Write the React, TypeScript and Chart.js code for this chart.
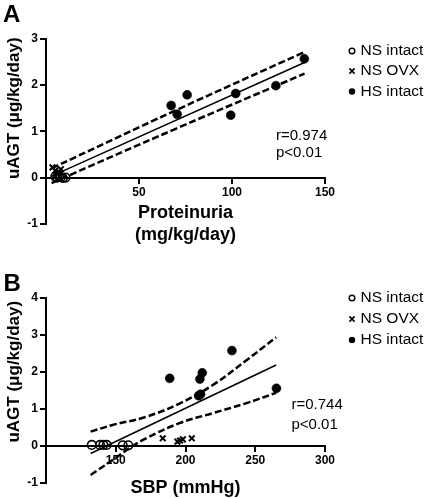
import React, { useEffect, useRef } from 'react';
import { Chart, registerables } from 'chart.js';

Chart.register(...registerables);

const FONT = '"Liberation Sans", Arial, Helvetica, sans-serif';

// ---------- Panel A: uAGT vs Proteinuria ----------
const nsIntactA = [
  { x: 5, y: 0.02 }, { x: 6, y: 0.0 }, { x: 7, y: 0.03 },
  { x: 8, y: 0.01 }, { x: 9, y: -0.01 }, { x: 10.5, y: 0.0 },
];
const nsOvxA = [
  { x: 3.5, y: 0.22 }, { x: 5, y: 0.15 }, { x: 6, y: 0.08 },
  { x: 7, y: 0.12 }, { x: 8, y: 0.18 },
];
const hsIntactA = [
  { x: 67.3, y: 1.56 }, { x: 70.5, y: 1.37 }, { x: 75.9, y: 1.79 },
  { x: 99.3, y: 1.35 }, { x: 102, y: 1.82 }, { x: 123.6, y: 1.99 },
  { x: 138.9, y: 2.57 },
];
const fitA = [{ x: 3, y: 0.03 }, { x: 139, y: 2.49 }];
const upperA = [{ x: 3, y: 0.2 }, { x: 70, y: 1.46 }, { x: 139, y: 2.72 }];
const lowerA = [{ x: 3, y: -0.12 }, { x: 70, y: 1.06 }, { x: 139, y: 2.25 }];
const xTicksA = { min: 0, max: 150, step: 50, hidden: 0 };
const yTicksA = { min: -1, max: 3, step: 1 };
const statsA = ['r=0.974', 'p<0.01'];
const xTitleA = ['Proteinuria', '(mg/kg/day)'];

// ---------- Panel B: uAGT vs SBP ----------
const nsIntactB = [
  { x: 132.8, y: 0.02 }, { x: 138.7, y: 0.02 }, { x: 141.1, y: 0.02 },
  { x: 143.5, y: 0.02 }, { x: 155, y: 0.01 }, { x: 159, y: 0.01 },
];
const nsOvxB = [
  { x: 183.7, y: 0.2 }, { x: 194.2, y: 0.11 }, { x: 196.1, y: 0.14 },
  { x: 198.1, y: 0.17 }, { x: 204.5, y: 0.2 },
];
const hsIntactB = [
  { x: 188.7, y: 1.82 }, { x: 210.3, y: 1.8 }, { x: 212, y: 1.97 },
  { x: 209.4, y: 1.35 }, { x: 210.8, y: 1.39 }, { x: 233.3, y: 2.57 },
  { x: 265.2, y: 1.55 },
];
const fitB = [{ x: 132, y: -0.21 }, { x: 265, y: 2.18 }];
const upperB = [
  { x: 132, y: 0.38 }, { x: 147.7, y: 0.56 }, { x: 171.7, y: 0.78 },
  { x: 195.7, y: 1.14 }, { x: 219.6, y: 1.64 }, { x: 243.7, y: 2.31 },
  { x: 265, y: 2.93 },
];
const lowerB = [
  { x: 132, y: -0.79 }, { x: 147.7, y: -0.39 }, { x: 159.7, y: -0.07 },
  { x: 171.7, y: 0.2 }, { x: 195.7, y: 0.61 }, { x: 219.6, y: 0.88 },
  { x: 243.7, y: 1.15 }, { x: 265, y: 1.43 },
];
const xTicksB = { min: 100, max: 300, step: 50, hidden: 100 };
const yTicksB = { min: -1, max: 4, step: 1 };
const statsB = ['r=0.744', 'p<0.01'];
const xTitleB = 'SBP (mmHg)';

const yTitle = 'uAGT (μg/kg/day)';
const legendLabels = ['NS intact', 'NS OVX', 'HS intact'];

type Pt = { x: number; y: number };

interface PanelCfg {
  letter: string;
  letterPos: [number, number];
  nsIntact: Pt[];
  nsOvx: Pt[];
  hsIntact: Pt[];
  fit: Pt[];
  upper: Pt[];
  lower: Pt[];
  xTicks: { min: number; max: number; step: number; hidden: number };
  yTicks: { min: number; max: number; step: number };
  xTitle: string | string[];
  stats: string[];
  statsX: number;
  statsYs: number[];
  legendX: number;
  legendYs: number[];
  padding: { top: number; bottom: number };
  xHeight: number;
}

function overlayPlugin(cfg: PanelCfg) {
  return {
    id: 'overlay' + cfg.letter,
    afterDraw(chart: any) {
      const ctx = chart.ctx as CanvasRenderingContext2D;
      ctx.save();
      ctx.fillStyle = '#000';
      ctx.strokeStyle = '#000';
      ctx.textAlign = 'left';
      ctx.textBaseline = 'alphabetic';
      ctx.font = `bold 24px ${FONT}`;
      ctx.fillText(cfg.letter, cfg.letterPos[0], cfg.letterPos[1]);

      // y-axis title, centred on the 0..max part of the axis
      const ys = chart.scales.y;
      const yc = (ys.getPixelForValue(0) + ys.getPixelForValue(cfg.yTicks.max)) / 2;
      ctx.save();
      ctx.translate(19, yc);
      ctx.rotate(-Math.PI / 2);
      ctx.textAlign = 'center';
      ctx.textBaseline = 'alphabetic';
      ctx.font = `bold 17px ${FONT}`;
      ctx.fillText(yTitle, 0, 0);
      ctx.restore();

      ctx.font = `15.5px ${FONT}`;
      ctx.textBaseline = 'middle';
      ctx.textAlign = 'left';
      legendLabels.forEach((t, i) => {
        const x = cfg.legendX;
        const y = cfg.legendYs[i];
        if (i === 0) {
          ctx.lineWidth = 1.5;
          ctx.beginPath();
          ctx.arc(x, y, 2.8, 0, Math.PI * 2);
          ctx.stroke();
        } else if (i === 1) {
          ctx.lineWidth = 1.7;
          ctx.beginPath();
          ctx.moveTo(x - 2.6, y - 2.6);
          ctx.lineTo(x + 2.6, y + 2.6);
          ctx.moveTo(x + 2.6, y - 2.6);
          ctx.lineTo(x - 2.6, y + 2.6);
          ctx.stroke();
        } else {
          ctx.beginPath();
          ctx.arc(x, y, 3.2, 0, Math.PI * 2);
          ctx.fill();
        }
        ctx.fillText(t, x + 8.5, y);
      });

      ctx.font = `15px ${FONT}`;
      cfg.stats.forEach((t, i) => ctx.fillText(t, cfg.statsX, cfg.statsYs[i]));
      ctx.restore();
    },
  };
}

function buildChart(canvas: HTMLCanvasElement, cfg: PanelCfg) {
  const pointCommon = { showLine: false, borderColor: '#000' };
  const lineCommon = { showLine: true, pointRadius: 0, borderColor: '#000', fill: false };
  return new Chart(canvas, {
    type: 'scatter',
    data: {
      datasets: [
        { ...pointCommon, label: legendLabels[0], data: cfg.nsIntact, pointStyle: 'circle', pointRadius: 4.3, borderWidth: 1.6, backgroundColor: 'rgba(0,0,0,0)' },
        { ...pointCommon, label: legendLabels[1], data: cfg.nsOvx, pointStyle: 'crossRot', pointRadius: 4, borderWidth: 2, backgroundColor: '#000' },
        { ...pointCommon, label: legendLabels[2], data: cfg.hsIntact, pointStyle: 'circle', pointRadius: 4.5, borderWidth: 0.5, backgroundColor: '#000' },
        { ...lineCommon, label: 'fit', data: cfg.fit, borderWidth: 1.5, tension: 0 },
        { ...lineCommon, label: 'upper', data: cfg.upper, borderWidth: 2.5, borderDash: [7, 3], tension: 0.4 },
        { ...lineCommon, label: 'lower', data: cfg.lower, borderWidth: 2.5, borderDash: [7, 3], tension: 0.4 },
      ] as any,
    },
    options: {
      responsive: false,
      animation: false,
      events: [],
      clip: false as any,
      layout: { padding: { left: 0, right: 100, top: cfg.padding.top, bottom: cfg.padding.bottom } },
      plugins: { legend: { display: false }, tooltip: { enabled: false } },
      scales: {
        x: {
          type: 'linear',
          position: { y: 0 } as any,
          min: cfg.xTicks.min,
          max: cfg.xTicks.max,
          border: { display: true, color: '#000', width: 2 },
          grid: { drawOnChartArea: false, drawTicks: true, tickLength: 5, color: '#000', lineWidth: 2 },
          ticks: {
            stepSize: cfg.xTicks.step,
            padding: 3,
            color: '#000',
            maxRotation: 0,
            autoSkip: false,
            font: { family: FONT, size: 12, weight: 'bold' },
            callback: (v: any) => (v === cfg.xTicks.hidden ? '' : String(v)),
          },
          title: {
            display: true,
            text: cfg.xTitle as any,
            color: '#000',
            padding: 0,
            font: { family: FONT, size: 18, weight: 'bold', lineHeight: 1.2 },
          },
          afterFit: (s: any) => { s.height = cfg.xHeight; },
        },
        y: {
          type: 'linear',
          position: 'left',
          min: cfg.yTicks.min,
          max: cfg.yTicks.max,
          border: { display: true, color: '#000', width: 2 },
          grid: { drawOnChartArea: false, drawTicks: true, tickLength: 6, color: '#000', lineWidth: 2 },
          ticks: {
            stepSize: cfg.yTicks.step,
            padding: 2,
            color: '#000',
            font: { family: FONT, size: 12, weight: 'bold' },
          },
          title: { display: false },
          afterFit: (s: any) => { s.width = 46; },
        },
      } as any,
    },
    plugins: [overlayPlugin(cfg)],
  } as any);
}

const cfgA: PanelCfg = {
  letter: 'A',
  letterPos: [3, 22],
  nsIntact: nsIntactA,
  nsOvx: nsOvxA,
  hsIntact: hsIntactA,
  fit: fitA,
  upper: upperA,
  lower: lowerA,
  xTicks: xTicksA,
  yTicks: yTicksA,
  xTitle: xTitleA,
  stats: statsA,
  statsX: 276,
  statsYs: [135.5, 152.5],
  legendX: 352,
  legendYs: [51, 71, 91.5],
  padding: { top: 39, bottom: 76.3 },
  xHeight: 68,
};

const cfgB: PanelCfg = {
  letter: 'B',
  letterPos: [3.5, 41],
  nsIntact: nsIntactB,
  nsOvx: nsOvxB,
  hsIntact: hsIntactB,
  fit: fitB,
  upper: upperB,
  lower: lowerB,
  xTicks: xTicksB,
  yTicks: yTicksB,
  xTitle: xTitleB,
  stats: statsB,
  statsX: 291.5,
  statsYs: [154.7, 174.7],
  legendX: 352,
  legendYs: [48, 69, 90],
  padding: { top: 47.7, bottom: 67.3 },
  xHeight: 53.1,
};

function Panel({ cfg, top }: { cfg: PanelCfg; top: number }) {
  const ref = useRef<HTMLCanvasElement | null>(null);
  useEffect(() => {
    if (!ref.current) return;
    const chart = buildChart(ref.current, cfg);
    return () => chart.destroy();
  }, [cfg]);
  return (
    <canvas
      ref={ref}
      width={425}
      height={300}
      style={{ position: 'absolute', left: 0, top, width: 425, height: 300, display: 'block' }}
    />
  );
}

export default function App() {
  return (
    <div
      style={{
        position: 'absolute',
        left: 0,
        top: 0,
        width: 425,
        height: 498,
        overflow: 'hidden',
        background: '#fff',
      }}
    >
      <Panel cfg={cfgA} top={0} />
      <Panel cfg={cfgB} top={250} />
    </div>
  );
}
